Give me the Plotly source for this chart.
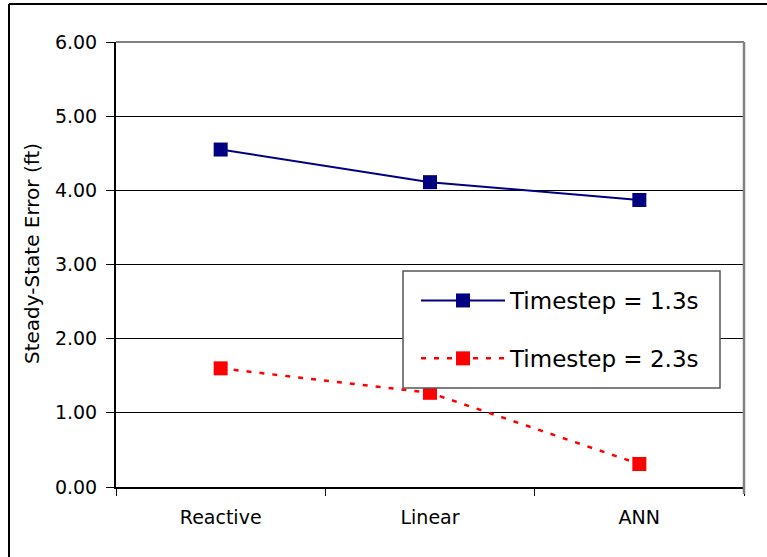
import plotly.graph_objects as go

categories = ["Reactive", "Linear", "ANN"]
series1_name = "Timestep = 1.3s"
series1 = [4.55, 4.11, 3.87]
series2_name = "Timestep = 2.3s"
series2 = [1.60, 1.27, 0.31]
y_ticks = [0, 1, 2, 3, 4, 5, 6]
y_tick_labels = ["0.00", "1.00", "2.00", "3.00", "4.00", "5.00", "6.00"]
y_title = "Steady-State Error (ft)"

FONT = "DejaVu Sans"

fig = go.Figure()
fig.add_trace(go.Scatter(
    x=categories, y=series1, name=series1_name, mode="lines+markers",
    line=dict(color="#000080", width=2),
    marker=dict(symbol="square", size=14, color="#000080"),
    legendgroup="a",
))
fig.add_trace(go.Scatter(
    x=categories, y=series2, name=series2_name, mode="lines+markers",
    line=dict(color="#FF0000", width=2.5, dash="5px,8px"),
    marker=dict(symbol="square", size=14, color="#FF0000"),
    legendgroup="b",
))

L, R, T, B = 116, 744, 42, 487
W, H = 767, 557
pw, ph = R - L, B - T

fig.update_layout(
    width=W, height=H,
    margin=dict(l=L, r=W - R, t=T, b=H - B),
    paper_bgcolor="white", plot_bgcolor="white",
    font=dict(family=FONT, size=19, color="black"),
    showlegend=True,
    legend=dict(
        x=(416 - L) / pw, y=(B - 279) / ph, xanchor="left", yanchor="top",
        bgcolor="rgba(0,0,0,0)", borderwidth=0,
        font=dict(size=23, family=FONT),
        itemwidth=84, tracegroupgap=25,
    ),
    xaxis=dict(
        type="category", range=[-0.5, 2.5],
        showline=True, linecolor="black", linewidth=2,
        ticks="outside", tickson="boundaries", ticklen=7, tickcolor="black", tickwidth=1,
        showgrid=False, tickfont=dict(size=19), mirror=False,
        ticklabelstandoff=12,
    ),
    yaxis=dict(
        range=[0, 6], tickvals=y_ticks, ticktext=y_tick_labels,
        showline=True, linecolor="black", linewidth=2,
        ticks="outside", ticklen=8, tickcolor="black",
        showgrid=True, gridcolor="black", gridwidth=1,
        tickfont=dict(size=19), zeroline=False,
        ticklabelstandoff=5,
    ),
)

fig.add_annotation(
    text=y_title, textangle=-90, showarrow=False,
    xref="paper", yref="paper", x=(32 - L) / pw, y=(B - 254) / ph,
    xanchor="center", yanchor="middle", font=dict(size=20, family=FONT),
)

# legend box
fig.add_shape(type="rect", xref="paper", yref="paper", layer="above",
              x0=(403 - L) / pw, x1=(720 - L) / pw, y0=(B - 388) / ph, y1=(B - 271) / ph,
              fillcolor="white", line=dict(color="#555555", width=1.5))
# plot area top and right borders (gray)
fig.add_shape(type="line", xref="paper", yref="paper", x0=0, x1=1, y0=1, y1=1,
              line=dict(color="#808080", width=2))
fig.add_shape(type="line", xref="paper", yref="paper", x0=1, x1=1, y0=-7/ph, y1=1,
              line=dict(color="#808080", width=2.5))
# outer chart frame (top and left)
fig.add_shape(type="line", xref="paper", yref="paper",
              x0=(9 - L) / pw, x1=(W + 5 - L) / pw, y0=(B - 4) / ph, y1=(B - 4) / ph,
              line=dict(color="black", width=2))
fig.add_shape(type="line", xref="paper", yref="paper",
              x0=(9 - L) / pw, x1=(9 - L) / pw, y0=(B - 4) / ph, y1=(B - H - 5) / ph,
              line=dict(color="black", width=2))

fig.write_html("out.html")
